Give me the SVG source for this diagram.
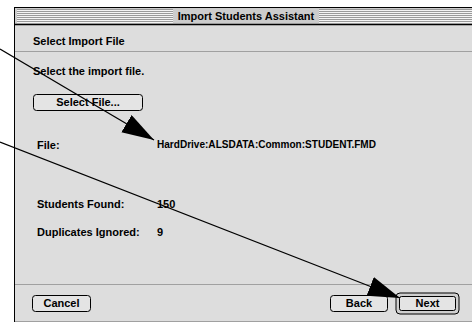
<svg xmlns="http://www.w3.org/2000/svg" width="472" height="325" viewBox="0 0 472 325">
<style>
text{font-family:"Liberation Sans",Arial,sans-serif;font-weight:bold;font-size:11px;fill:#000}
.btn{fill:#e4e4e4;stroke:#000;stroke-width:1}
.sep{stroke:#a0a0a0;stroke-width:1}
.conn{stroke:#000;stroke-width:1.2;fill:none}
</style>
<defs>
<marker id="ah" markerUnits="userSpaceOnUse" markerWidth="34" markerHeight="22" refX="32" refY="10" orient="auto">
<path d="M0,0 L32,10 L0,20 Z" fill="#000"/>
</marker>
<pattern id="str" width="4" height="2" patternUnits="userSpaceOnUse">
<rect width="4" height="1" fill="#f4f4f4"/>
<rect y="1" width="4" height="1" fill="#9a9a9a"/>
</pattern>
</defs>
<rect width="472" height="325" fill="#fff"/>
<g id="window">
<rect x="14.5" y="7.5" width="470" height="314" fill="#dddddd" stroke="#000" stroke-width="1"/>
<rect x="15" y="8" width="457" height="16" fill="#cccccc"/>
<rect x="17" y="9" width="156" height="14" fill="url(#str)"/>
<rect x="319" y="9" width="153" height="14" fill="url(#str)"/>
<line x1="14" y1="24.5" x2="472" y2="24.5" stroke="#000" stroke-width="1.5"/>
<text x="246" y="20" text-anchor="middle">Import Students Assistant</text>
<line class="sep" x1="15" y1="51.5" x2="472" y2="51.5"/>
<line class="sep" x1="15" y1="284.5" x2="472" y2="284.5"/>
<line class="sep" x1="15" y1="321.5" x2="472" y2="321.5"/>
</g>
<g id="heading"><text x="33" y="45">Select Import File</text></g>
<g id="instruction"><text x="33" y="75">Select the import file.</text></g>
<g id="select-file-btn">
<rect class="btn" x="33.5" y="94.5" width="109" height="16" rx="3"/>
<text x="88" y="106" text-anchor="middle">Select File...</text>
</g>
<g id="file"><text x="37" y="149">File:</text><text x="157" y="148" textLength="219" lengthAdjust="spacingAndGlyphs">HardDrive:ALSDATA:Common:STUDENT.FMD</text></g>
<g id="found"><text x="37" y="208">Students Found:</text><text x="157" y="208">150</text></g>
<g id="dups"><text x="37" y="236">Duplicates Ignored:</text><text x="157" y="236">9</text></g>
<g id="cancel-btn">
<rect class="btn" x="32.5" y="295.5" width="58" height="16" rx="3"/>
<text x="61.5" y="307" text-anchor="middle">Cancel</text>
</g>
<g id="back-btn">
<rect class="btn" x="330.5" y="295.5" width="57" height="16" rx="3"/>
<text x="359" y="307" text-anchor="middle">Back</text>
</g>
<g id="next-btn">
<rect x="396" y="293" width="63" height="21" rx="4" fill="#cfcfcf" stroke="#000" stroke-width="1"/>
<rect class="btn" x="399.5" y="296.5" width="56" height="14" rx="2"/>
<text x="427.5" y="307" text-anchor="middle">Next</text>
</g>
<g id="connectors">
<line class="conn" x1="0" y1="49" x2="154" y2="140" marker-end="url(#ah)"/>
<line class="conn" x1="0" y1="142" x2="400" y2="298" marker-end="url(#ah)"/>
</g>
</svg>
